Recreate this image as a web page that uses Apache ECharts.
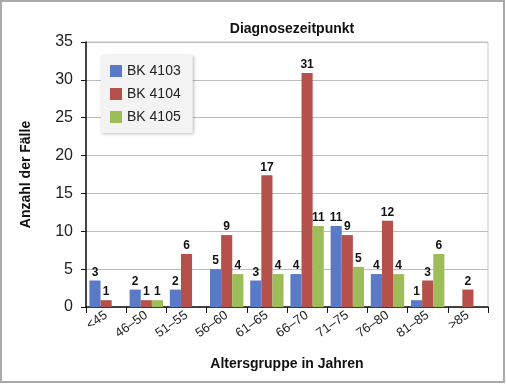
<!DOCTYPE html>
<html><head><meta charset="utf-8">
<script src="https://cdn.jsdelivr.net/npm/echarts@6/dist/echarts.min.js"></script>
<style>html,body{margin:0;padding:0;background:#fff}#c{width:506px;height:384px}</style>
</head><body><div id="c"></div>
<script>
const categories = ['<45','46–50','51–55','56–60','61–65','66–70','71–75','76–80','81–85','>85'];
const seriesNames = ['BK 4103','BK 4104','BK 4105'];
const bk4103 = [3.5, 2.3, 2.3, 5.0, 3.5, 4.35, 10.7, 4.35, 0.9, null];
const bk4104 = [0.9, 0.9, 7.0, 9.5, 17.4, 30.9, 9.5, 11.4, 3.5, 2.3];
const bk4105 = [null, 0.9, null, 4.35, 4.35, 10.7, 5.3, 4.35, 7.0, null];
const lbl4103 = ['3','2','2','5','3','4','11','4','1',''];
const lbl4104 = ['1','1','6','9','17','31','9','12','3','2'];
const lbl4105 = ['','1','','4','4','11','5','4','6',''];
const yTicks = {min:0, max:35, interval:5};
const colors = ['#5a79c6','#b5504a','#9dbd59'];

const chart = echarts.init(document.getElementById('c'), null, {renderer:'canvas'});
function mk(name, data, lbls, color){
  return {
    name, type:'bar', data, barGap:'0%', barCategoryGap:'17%',
    itemStyle:{color},
    label:{show:true, position:'top', distance:2, color:'#111', fontFamily:'Liberation Sans', fontWeight:'bold', fontSize:12,
      formatter:p=>lbls[p.dataIndex]}
  };
}
const titleFont = {fontFamily:'Liberation Sans', fontWeight:'bold', fontSize:14, color:'#111'};
chart.setOption({
  animation:false,
  backgroundColor:'#fff',
  title:{text:'Diagnosezeitpunkt', left:287, textAlign:'center', top:17, textStyle:titleFont},
  grid:{left:86, right:18, top:42, bottom:77, show:true, borderColor:'#c8c8c8', borderWidth:1, backgroundColor:'transparent'},
  legend:{orient:'vertical', left:101, top:55, itemWidth:12, itemHeight:12, itemGap:9,
    padding:[9,12,9,9], backgroundColor:'#f3f3f3', shadowColor:'rgba(0,0,0,0.25)', shadowBlur:3, shadowOffsetX:1, shadowOffsetY:1,
    textStyle:{fontFamily:'Liberation Sans', fontSize:14, color:'#222'}, icon:'rect', data:seriesNames},
  xAxis:{type:'category', data:categories,
    name:'Altersgruppe in Jahren', nameLocation:'middle', nameGap:50, nameTextStyle:titleFont,
    axisLine:{lineStyle:{color:'#111', width:1.5}},
    axisTick:{show:true, alignWithLabel:false, length:6, lineStyle:{color:'#111'}},
    axisLabel:{rotate:35, fontFamily:'Liberation Sans', fontSize:13, color:'#222', margin:7, interval:0}},
  yAxis:{type:'value', min:yTicks.min, max:yTicks.max, interval:yTicks.interval,
    name:'Anzahl der Fälle', nameLocation:'middle', nameGap:53, nameRotate:90, nameTextStyle:titleFont,
    axisLine:{show:true, lineStyle:{color:'#111', width:1.5}},
    axisTick:{show:true, length:5, lineStyle:{color:'#111'}},
    axisLabel:{fontFamily:'Liberation Sans', fontSize:16, color:'#222', margin:13},
    splitLine:{lineStyle:{color:'#bdbdbd', width:1}}},
  graphic:[{type:'rect', shape:{x:1, y:1, width:503, height:381}, style:{fill:'none', stroke:'#aaa', lineWidth:2}, silent:true}],
  series:[mk(seriesNames[0], bk4103, lbl4103, colors[0]), mk(seriesNames[1], bk4104, lbl4104, colors[1]), mk(seriesNames[2], bk4105, lbl4105, colors[2])]
});
</script></body></html>
